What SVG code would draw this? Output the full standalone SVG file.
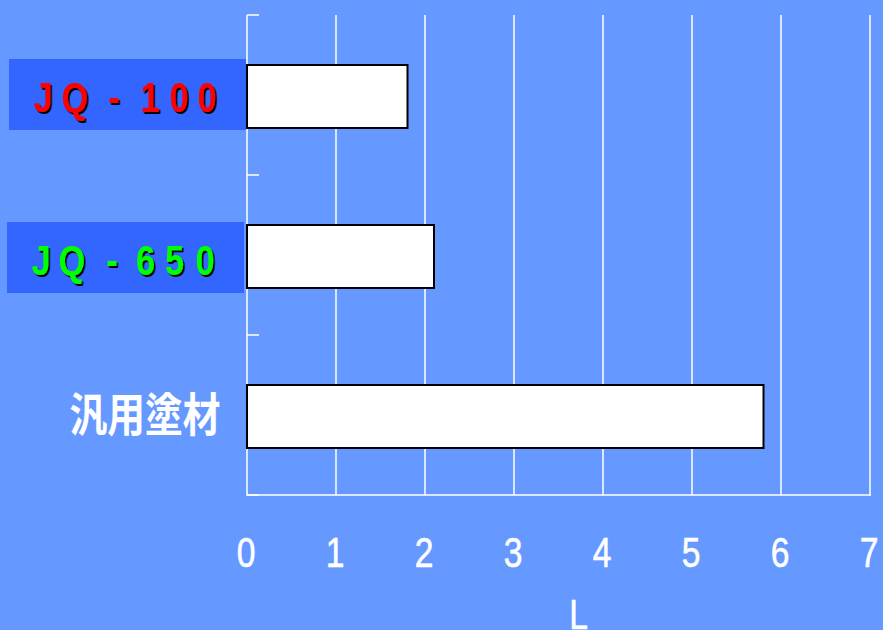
<svg xmlns="http://www.w3.org/2000/svg" width="883" height="630" viewBox="0 0 883 630">
<defs>
<filter id="sh" x="-10%" y="-10%" width="130%" height="130%"><feDropShadow dx="2" dy="2" stdDeviation="0.4" flood-color="#000" flood-opacity="1"/></filter>
<style>
.grid{stroke:#ffffff;stroke-width:1.5;fill:none}
.bar{fill:#ffffff;stroke:#000000;stroke-width:2}
.lbox{fill:#3366ff}
.jq{font-family:"Liberation Sans",Arial,sans-serif;font-size:43px;font-weight:bold;text-anchor:middle}
.num{font-family:"Liberation Sans",Arial,sans-serif;font-size:42px;fill:#ffffff;stroke:#ffffff;stroke-width:0.6;text-anchor:middle}
.cjk{font-family:"Noto Sans CJK JP","Noto Sans CJK SC",sans-serif;font-size:46px;font-weight:bold;fill:#ffffff;text-anchor:middle}
</style>
</defs>
<rect x="0" y="0" width="883" height="630" fill="#6699ff"/>
<g id="axes">
<path class="grid" d="M247,15V495H871M336,15V495M425,15V495M514,15V495M603,15V495M692,15V495M781,15V495M870,15V495"/>
<path class="grid" d="M247,15H259M247,175H259M247,335H259M247,495H259"/>
</g>
<g id="ticklabels">
<text class="num" transform="scale(0.8,1)" y="567"><tspan x="307.5">0</tspan><tspan x="418.75">1</tspan><tspan x="530">2</tspan><tspan x="641.25">3</tspan><tspan x="752.5">4</tspan><tspan x="863.75">5</tspan><tspan x="975">6</tspan><tspan x="1086.25">7</tspan></text>
<text class="num" transform="scale(0.8,1)" x="711.6" y="629" style="text-anchor:start">L</text>
</g>
<g id="bar-jq100">
<rect class="bar" x="247" y="65" width="160.5" height="63"/>
</g>
<g id="bar-jq650">
<rect class="bar" x="247" y="225" width="187" height="63"/>
</g>
<g id="bar-general">
<rect class="bar" x="247" y="385" width="516.5" height="63"/>
</g>
<g id="label-jq100">
<rect class="lbox" x="9" y="59" width="237" height="71"/>
<text class="jq" fill="#ff0000" filter="url(#sh)" transform="scale(0.8,1)" y="112"><tspan x="53.75">J</tspan><tspan x="93.75">Q</tspan><tspan x="142.5">-</tspan><tspan x="187.5">1</tspan><tspan x="223.75">0</tspan><tspan x="258.75">0</tspan></text>
</g>
<g id="label-jq650">
<rect class="lbox" x="7" y="222" width="237" height="71"/>
<text class="jq" fill="#00ff00" filter="url(#sh)" transform="scale(0.8,1)" y="275"><tspan x="51.25">J</tspan><tspan x="90">Q</tspan><tspan x="140">-</tspan><tspan x="181.9">6</tspan><tspan x="218.1">5</tspan><tspan x="256.25">0</tspan></text>
</g>
<g id="label-general">
<text class="cjk" transform="scale(0.82,1)" x="176.8" y="431">汎用塗材</text>
</g>
</svg>
